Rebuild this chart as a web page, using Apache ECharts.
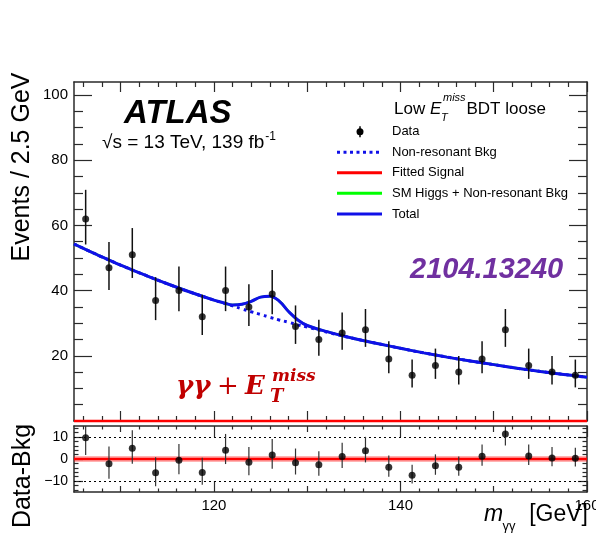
<!DOCTYPE html>
<html>
<head>
<meta charset="utf-8">
<script src="https://cdn.jsdelivr.net/npm/echarts@6/dist/echarts.min.js"></script>
<style>
  html, body { margin: 0; padding: 0; background: #fff; }
  #chart { width: 596px; height: 540px; }
</style>
</head>
<body>
<div id="chart"></div>
<script>
// Diphoton invariant-mass spectrum, 2.5 GeV bins
const binCenters = [106.25, 108.75, 111.25, 113.75, 116.25, 118.75, 121.25, 123.75, 126.25, 128.75, 131.25,
                    133.75, 136.25, 138.75, 141.25, 143.75, 146.25, 148.75, 151.25, 153.75, 156.25, 158.75];
const eventCounts = [62, 47, 51, 37, 40, 32, 40, 35, 39, 29, 25, 27, 28, 19, 14, 17, 15, 19, 28, 17, 15, 14];
const residuals = [9.7, -2.2, 4.9, -6.3, -0.6, -6.1, 4.0, -1.5, 1.8, -1.7, -2.6, 1.1, 3.7, -3.8, -7.4, -3.1,
                   -3.8, 1.2, 11.4, 1.4, 0.5, 0.3];

// Fit curves sampled along the mass axis
const curveMass = [105, 107.5, 110, 112.5, 115, 117.5, 120, 121, 122, 123, 124, 125, 126, 127, 128, 129, 130,
                   132.5, 135, 137.5, 140, 142.5, 145, 147.5, 150, 152.5, 155, 157.5, 160];
const nonResonantBkg = [54.3, 51.0, 47.8, 44.9, 42.1, 39.5, 37.1, 36.2, 35.3, 34.4, 33.5, 32.7, 31.8, 31.0, 30.3,
                        29.5, 28.8, 27.0, 25.3, 23.8, 22.3, 20.9, 19.6, 18.4, 17.3, 16.2, 15.2, 14.3, 13.4];
const totalFit = [54.3, 51.0, 47.8, 44.9, 42.1, 39.5, 37.1, 36.3, 35.6, 35.8, 36.7, 38.0, 38.3, 36.8, 33.6,
                  31.0, 29.3, 27.1, 25.3, 23.8, 22.3, 20.9, 19.6, 18.4, 17.3, 16.2, 15.2, 14.3, 13.4];
const smHiggsPlusBkg = totalFit.slice();
const signalMass = [105, 160];
const fittedSignal = [0, 0];
const residualGuides = [10, -10];

// Axis ticks and labels
const massRange = [105, 160];
const upperYRange = [0, 104];
const lowerYRange = [-15, 15];
const massTicks10 = [110, 120, 130, 140, 150, 160];
const massTicks20 = [120, 140, 160];
const massTicksMid = [110, 130, 150];
const massTicks2 = [106, 108, 112, 114, 116, 118, 122, 124, 126, 128, 132, 134, 136, 138, 142, 144, 146, 148,
                    152, 154, 156, 158];
const eventTicks = [20, 40, 60, 80, 100];
const eventMinorTicks = [5, 10, 15, 25, 30, 35, 45, 50, 55, 65, 70, 75, 85, 90, 95];
const residTicks = [-10, 0, 10];
const residMinorTicks = [-14, -12, -8, -6, -4, -2, 2, 4, 6, 8, 12, 14];

// Asymmetric Poisson uncertainties on counts
const errUp = n => 1 + Math.sqrt(n + 0.75);
const errDown = n => n - n * Math.pow(1 - 1 / (9 * n) - 1 / (3 * Math.sqrt(n)), 3);

const SANS = "'Liberation Sans', Arial, Helvetica, sans-serif";
const FRAME = '#2a2a2a';

const xAxes = [];
const yAxes = [];
function addAxis(list, grid, pos, range, ticks, len, withLine, labels, labelSize) {
  const axisLabel = labels ? {
    show: true, customValues: labels, color: '#000', fontSize: labelSize, fontFamily: SANS, margin: 6,
    formatter: v => (v < 0 ? '\u2212' + Math.abs(v) : String(v))
  } : { show: false };
  if (labels && (pos === 'bottom' || pos === 'top')) {
    // keep the end label centred on its tick, even at the canvas edge
    axisLabel.alignMinLabel = 'center';
    axisLabel.alignMaxLabel = 'center';
  }
  list.push({
    type: 'value', gridIndex: grid, position: pos, min: range[0], max: range[1],
    axisLine: { show: withLine, onZero: false, lineStyle: { color: FRAME, width: 1.5 } },
    axisTick: { show: true, inside: true, length: len, customValues: ticks,
                lineStyle: { color: FRAME, width: 1.2 } },
    axisLabel: axisLabel,
    splitLine: { show: false }
  });
  return list.length - 1;
}

// Upper panel frame
const ux = addAxis(xAxes, 0, 'bottom', massRange, massTicks10, 10, true, null);
addAxis(xAxes, 0, 'bottom', massRange, massTicks2, 5, false, null);
addAxis(xAxes, 0, 'top', massRange, massTicks10, 10, true, null);
addAxis(xAxes, 0, 'top', massRange, massTicks2, 5, false, null);
const uy = addAxis(yAxes, 0, 'left', upperYRange, eventTicks, 18, true, eventTicks, 15);
addAxis(yAxes, 0, 'left', upperYRange, eventMinorTicks, 9, false, null);
addAxis(yAxes, 0, 'right', upperYRange, eventTicks, 18, true, null);
addAxis(yAxes, 0, 'right', upperYRange, eventMinorTicks, 9, false, null);

// Lower panel frame
const lx = addAxis(xAxes, 1, 'bottom', massRange, massTicks20, 11, true, massTicks20, 15);
addAxis(xAxes, 1, 'bottom', massRange, massTicksMid, 6, false, null);
addAxis(xAxes, 1, 'bottom', massRange, massTicks2, 3.5, false, null);
addAxis(xAxes, 1, 'top', massRange, massTicks20, 11, true, null);
addAxis(xAxes, 1, 'top', massRange, massTicksMid, 6, false, null);
addAxis(xAxes, 1, 'top', massRange, massTicks2, 3.5, false, null);
const ly = addAxis(yAxes, 1, 'left', lowerYRange, residTicks, 9, true, residTicks, 14);
addAxis(yAxes, 1, 'left', lowerYRange, residMinorTicks, 4.5, false, null);
addAxis(yAxes, 1, 'right', lowerYRange, residTicks, 9, true, null);
addAxis(yAxes, 1, 'right', lowerYRange, residMinorTicks, 4.5, false, null);

const pairs = (xs, ys) => xs.map((x, i) => [x, ys[i]]);
const dataPoints = pairs(binCenters, eventCounts);
const dataErrors = binCenters.map((x, i) => [x, eventCounts[i] - errDown(eventCounts[i]), eventCounts[i] + errUp(eventCounts[i])]);
const residPoints = pairs(binCenters, residuals);
const residErrors = binCenters.map((x, i) => [x, residuals[i] - errDown(eventCounts[i]), residuals[i] + errUp(eventCounts[i])]);

function errorBars(color, width) {
  return function (params, api) {
    const a = api.coord([api.value(0), api.value(1)]);
    const b = api.coord([api.value(0), api.value(2)]);
    return { type: 'line', shape: { x1: a[0], y1: a[1], x2: b[0], y2: b[1] },
             style: { stroke: color, lineWidth: width } };
  };
}

const BLUE = '#1010e8';
const RED = '#ff0000';
const GREEN = '#00ff00';

const series = [
  { type: 'line', xAxisIndex: ux, yAxisIndex: uy, data: pairs(curveMass, smHiggsPlusBkg), smooth: 0.4,
    showSymbol: false, lineStyle: { color: GREEN, width: 2.5 }, z: 2 },
  { type: 'line', xAxisIndex: ux, yAxisIndex: uy, data: pairs(curveMass, nonResonantBkg), smooth: 0.4,
    showSymbol: false, lineStyle: { color: BLUE, width: 3, type: [3, 4] }, z: 3 },
  { type: 'line', xAxisIndex: ux, yAxisIndex: uy, data: pairs(curveMass, totalFit), smooth: 0.4,
    showSymbol: false, lineStyle: { color: BLUE, width: 3 }, z: 4 },
  { type: 'line', xAxisIndex: ux, yAxisIndex: uy, data: pairs(signalMass, fittedSignal), clip: false,
    showSymbol: false, lineStyle: { color: RED, width: 2.5 }, z: 4 },
  { type: 'custom', xAxisIndex: ux, yAxisIndex: uy, data: dataErrors, encode: { x: 0, y: [1, 2] },
    renderItem: errorBars('#111', 1.5), clip: true, z: 5 },
  { type: 'scatter', xAxisIndex: ux, yAxisIndex: uy, data: dataPoints, symbol: 'circle', symbolSize: 7,
    itemStyle: { color: '#000' }, z: 6 },

  { type: 'line', xAxisIndex: lx, yAxisIndex: ly, data: pairs(signalMass, fittedSignal), showSymbol: false,
    lineStyle: { color: 'rgba(255,0,0,0.3)', width: 6 }, z: 3,
    markLine: { silent: true, symbol: ['none', 'none'], label: { show: false },
                lineStyle: { color: '#000', type: [2, 3], width: 1 },
                data: residualGuides.map(v => ({ yAxis: v })) } },
  { type: 'line', xAxisIndex: lx, yAxisIndex: ly, data: pairs(signalMass, fittedSignal), showSymbol: false,
    lineStyle: { color: RED, width: 2.5 }, z: 4 },
  { type: 'custom', xAxisIndex: lx, yAxisIndex: ly, data: residErrors, encode: { x: 0, y: [1, 2] },
    renderItem: errorBars('#333', 1.2), clip: true, z: 5 },
  { type: 'scatter', xAxisIndex: lx, yAxisIndex: ly, data: residPoints, symbol: 'circle', symbolSize: 7,
    itemStyle: { color: '#000' }, z: 6 }
];

// Text measurement for placing super/subscripts
const measureCtx = document.createElement('canvas').getContext('2d');
function textWidth(text, font) { measureCtx.font = font; return measureCtx.measureText(text).width; }

function label(x, baseline, text, size, opts) {
  opts = opts || {};
  const weight = opts.weight || 'normal';
  const style = opts.style || 'normal';
  const family = opts.family || SANS;
  return {
    type: 'text', x: x, y: baseline - 0.35 * size, z: 100, silent: true,
    style: { text: text, fill: opts.color || '#000', fontSize: size, fontWeight: weight, fontStyle: style,
             fontFamily: family, align: opts.align || 'left', verticalAlign: 'middle' }
  };
}

const energyText = '\u221As = 13 TeV, 139 fb';
const energyW = textWidth(energyText, 'normal 19px ' + SANS);

const legendRows = [
  { y: 131.7, text: 'Data' },
  { y: 152.3, text: 'Non-resonant Bkg', line: { color: BLUE, dash: [3, 3.5] } },
  { y: 172.7, text: 'Fitted Signal', line: { color: RED } },
  { y: 193.3, text: 'SM Higgs + Non-resonant Bkg', line: { color: GREEN } },
  { y: 214.0, text: 'Total', line: { color: BLUE } }
];

const MATH = "'DejaVu Serif', 'Liberation Serif', serif";
const DARKRED = '#c00000';

const graphic = [
  label(124, 125, 'ATLAS', 33, { weight: 'bold', style: 'italic' }),
  label(102, 149, energyText, 19),
  label(102 + energyW + 1, 141, '-1', 12),

  label(394, 115, 'Low', 17),
  label(430, 115, 'E', 17, { style: 'italic' }),
  label(443, 101.5, 'miss', 11, { style: 'italic' }),
  label(441, 121.5, 'T', 11, { style: 'italic' }),
  label(466.5, 115, 'BDT loose', 17),

  label(410, 280, '2104.13240', 29, { weight: 'bold', style: 'italic', color: '#7030a0' }),

  label(176, 396.5, '\u03B3\u03B3', 26, { weight: 'bold', style: 'italic', family: MATH, color: DARKRED }),
  label(228, 396.5, '+', 26, { family: MATH, color: DARKRED, align: 'center' }),
  label(245, 396.5, 'E', 26, { weight: 'bold', style: 'italic', family: MATH, color: DARKRED }),
  label(272, 383, 'miss', 17, { weight: 'bold', style: 'italic', family: MATH, color: DARKRED }),
  label(270, 404, 'T', 18, { weight: 'bold', style: 'italic', family: MATH, color: DARKRED }),

  { type: 'text', x: 22, y: 167, rotation: Math.PI / 2, z: 100, silent: true,
    style: { text: 'Events / 2.5 GeV', fontSize: 25, fontFamily: SANS, fill: '#000',
             align: 'center', verticalAlign: 'middle' } },
  { type: 'text', x: 23, y: 476, rotation: Math.PI / 2, z: 100, silent: true,
    style: { text: 'Data-Bkg', fontSize: 25, fontFamily: SANS, fill: '#000',
             align: 'center', verticalAlign: 'middle' } },

  label(484, 523, 'm', 23, { style: 'italic' }),
  label(502.5, 531, '\u03B3\u03B3', 13),
  label(588, 523, '[GeV]', 23, { align: 'right' })
];

legendRows.forEach(r => {
  if (r.line) {
    graphic.push({ type: 'line', z: 100, silent: true,
      shape: { x1: 337, y1: r.y, x2: 382, y2: r.y },
      style: { stroke: r.line.color, lineWidth: 3, lineDash: r.line.dash || null } });
  } else {
    graphic.push({ type: 'line', z: 100, silent: true,
      shape: { x1: 360, y1: r.y - 5.5, x2: 360, y2: r.y + 5.5 },
      style: { stroke: '#000', lineWidth: 1.5 } });
    graphic.push({ type: 'circle', z: 101, silent: true,
      shape: { cx: 360, cy: r.y, r: 3.5 }, style: { fill: '#000' } });
  }
  graphic.push(label(392, r.y + 0.35 * 13, r.text, 13));
});

const chart = echarts.init(document.getElementById('chart'), null, { renderer: 'canvas' });
chart.setOption({
  animation: false,
  backgroundColor: '#fff',
  grid: [
    { left: 74, top: 82, width: 513, height: 339, containLabel: false, outerBoundsMode: 'none' },
    { left: 74, top: 426, width: 513, height: 66, containLabel: false, outerBoundsMode: 'none' }
  ],
  xAxis: xAxes,
  yAxis: yAxes,
  series: series,
  graphic: graphic
});
</script>
</body>
</html>
